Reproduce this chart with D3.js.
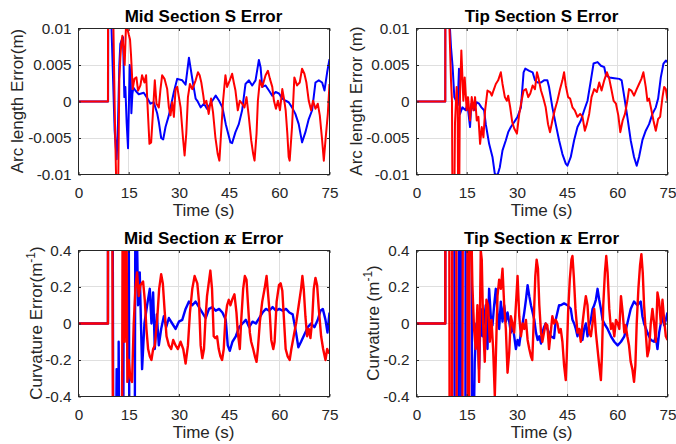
<!DOCTYPE html>
<html>
<head>
<meta charset="utf-8">
<script src="https://cdn.jsdelivr.net/npm/d3@7"></script>
<style>
  html, body { margin: 0; padding: 0; background: #fff; }
  svg { display: block; }
  text { font-family: "Liberation Sans", Arial, Helvetica, sans-serif; }
</style>
</head>
<body>
<svg id="fig" width="676" height="444"></svg>
<script>
// Time axis and tick labels
const timeTicks = [0, 15, 30, 45, 60, 75];
const sTicks = [-0.01, -0.005, 0, 0.005, 0.01];
const sTickLabels = ["-0.01", "-0.005", "0", "0.005", "0.01"];
const kTicks = [-0.4, -0.2, 0, 0.2, 0.4];
const kTickLabels = ["-0.4", "-0.2", "0", "0.2", "0.4"];

// Mid section arc-length error (m): [time (s), error]
const midS_blue = [[0,0],[8.85,0],[8.9,0.014],[9.6,0.014],[10.2,0.005],[10.8,-0.004],[11.4,-0.0079],[11.8,-0.003],[12.2,0.005],[12.5,0.0079],[13.0,0.0085],[13.3,0.0088],[13.7,0.0006],[14.0,0.002],[14.4,-0.003],[14.8,-0.0064],[15.3,0.005],[15.6,0.003],[15.8,-0.0016],[16.1,0.001],[16.4,0.0019],[17.0,0.0015],[18.0,0.001],[19.5,0.0012],[20.5,0.0005],[21.5,-0.0003],[22.5,-0.0001],[23.5,-0.0016],[24.0,-0.0028],[24.7,-0.005],[25.3,-0.0052],[26.0,-0.0035],[27.0,-0.0019],[28.5,0.0013],[29.5,0.0031],[31.0,0.0029],[32.0,0.0023],[33.0,0.006],[34,0.0031],[35,0.0004],[35.5,0.0001],[36.5,-0.0008],[37.5,-0.0003],[38.4,-0.001],[40,0.0001],[41,0.0008],[42,0.0001],[43,-0.0008],[44,-0.0031],[45.4,-0.0056],[45.9,-0.0057],[46.9,-0.0042],[47.9,-0.0031],[48.9,-0.0012],[49.9,0.0024],[50.9,0.0029],[51.9,0.0022],[52.9,0.0029],[53.9,0.0057],[54.4,0.0047],[54.9,0.002],[55.9,0.0022],[56.9,0.0015],[57.9,0.0008],[58.9,0.0013],[59.9,0.0011],[60.9,0.0004],[61.9,0.0001],[62.8,-0.0001],[63.8,-0.0008],[64.8,-0.0017],[65.8,-0.0031],[66.8,-0.0056],[67.8,-0.0042],[68.8,-0.0024],[69.8,-0.0012],[70.8,0.0026],[71.8,0.0029],[72.8,0.0026],[73.5,0.0015],[74.3,0.004],[75,0.0058]];
const midS_red = [[0,0],[8.8,0],[8.82,0.014],[10.3,0.014],[10.9,-0.003],[11.4,-0.014],[11.8,-0.014],[12.2,0.003],[12.5,0.006],[12.8,0.008],[13.1,0.009],[13.4,0.0075],[13.8,0.005],[14.2,0.0105],[14.6,0.01],[15.0,0.0092],[15.4,0.0085],[15.7,0.0063],[16.2,0.0017],[16.7,0.0031],[17.3,0.0033],[17.8,0.0015],[18.5,0.0022],[19.0,0.0036],[19.7,0.0026],[20.2,0.0036],[20.7,-0.0012],[21.2,-0.0058],[21.7,-0.0056],[22.2,-0.0019],[22.8,0.0029],[23.3,-0.0003],[24.0,-0.0008],[24.5,0.0017],[25.0,0.0036],[25.7,0.0031],[26.5,0.0017],[27.0,-0.0008],[27.5,-0.0019],[28.0,-0.0001],[28.5,-0.0021],[29.0,0.0017],[29.5,0.002],[30.0,0.0006],[30.5,-0.0008],[31.2,-0.0049],[31.7,-0.0074],[32.2,-0.0044],[32.7,0.0006],[33.3,0.0024],[34.0,0.0017],[35.0,0.0029],[35.7,0.004],[36.2,0.0036],[36.7,0.0026],[37.3,0.0008],[37.6,-0.0003],[38.2,0.0001],[38.9,-0.0017],[39.6,0.0004],[40.2,-0.0015],[40.9,-0.0049],[41.6,-0.0072],[42.1,-0.0081],[42.6,-0.0044],[43.2,0.0001],[43.9,0.0036],[44.4,0.002],[45.2,0.0029],[45.9,0.0038],[46.4,0.0026],[46.9,0.0015],[47.6,-0.0012],[48.2,0.0001],[48.9,-0.0003],[49.6,-0.0008],[50.2,0.0006],[50.9,-0.0021],[51.6,-0.0053],[52.2,-0.0072],[52.6,-0.0081],[53.2,-0.0044],[53.6,0.0001],[54.2,0.0029],[54.9,0.002],[55.9,0.0036],[56.6,0.0042],[57.2,0.0031],[57.9,0.002],[58.4,0.0001],[59.0,-0.001],[59.6,0.0001],[60.2,-0.0012],[60.9,0.0017],[61.4,0.0004],[61.9,-0.0012],[62.4,-0.0044],[62.8,-0.0076],[63.1,-0.0081],[63.8,-0.0035],[64.5,0.0033],[65.3,0.0022],[66.1,0.0026],[66.8,0.0045],[67.5,0.0038],[68.1,0.0026],[68.8,0.0001],[69.5,-0.0012],[70.1,0.0001],[70.8,-0.001],[71.5,-0.0003],[72.1,-0.0019],[72.8,-0.0053],[73.3,-0.0081],[73.8,-0.0053],[74.5,-0.0017],[75,0.0024]];

// Tip section arc-length error (m)
const tipS_blue = [[0,0],[8.6,0],[8.62,0.014],[9.7,0.014],[10.0,0.01],[10.3,0.0075],[10.8,0.0047],[11.3,0.0006],[11.8,0.0001],[12.3,-0.0005],[12.7,0.0045],[13.0,-0.0017],[13.7,-0.0008],[14.7,-0.0012],[15.2,-0.0003],[16.0,-0.0035],[16.4,-0.0003],[17.2,-0.0012],[18.0,-0.0001],[18.7,-0.0003],[19.4,-0.0008],[20.2,-0.0012],[20.7,-0.0031],[21.7,-0.0058],[22.7,-0.0076],[23.4,-0.0099],[24.2,-0.0101],[24.9,-0.009],[25.7,-0.0067],[26.7,-0.0053],[27.4,-0.0042],[28.2,-0.0035],[29.2,-0.0028],[30.2,-0.0021],[31.2,-0.0008],[32.0,0.004],[32.5,0.0045],[33.7,0.0042],[34.7,0.004],[35.4,0.0029],[36.2,0.0026],[37.2,0.0026],[38.1,0.0029],[39.1,0.0029],[39.6,0.002],[40.6,-0.0008],[41.6,-0.0031],[42.6,-0.0053],[43.6,-0.0072],[44.6,-0.0085],[45.1,-0.0088],[46.1,-0.0076],[47.1,-0.0053],[48.1,-0.0035],[49.1,-0.0026],[50.1,-0.0012],[51.1,0.0001],[52.1,0.0029],[52.9,0.0052],[54.1,0.0054],[55.1,0.0049],[56.1,0.0047],[56.6,0.0036],[57.6,0.0033],[59.1,0.0032],[60.6,0.0031],[61.3,0.0029],[62.1,0.0006],[63.0,-0.0021],[64.0,-0.0053],[65.0,-0.0076],[65.8,-0.0088],[66.5,-0.0076],[67.5,-0.0053],[68.5,-0.004],[69.5,-0.0031],[70.5,-0.0017],[71.5,-0.0008],[72.2,0.0004],[73.0,0.0033],[73.8,0.0052],[74.5,0.0056],[75,0.0054]];
const tipS_red = [[0,0],[8.6,0],[8.62,0.014],[9.6,0.014],[10.3,0.003],[10.6,0.0],[10.75,-0.014],[11.3,-0.014],[11.5,-0.003],[12.0,0.002],[12.3,-0.001],[12.45,-0.014],[12.75,-0.014],[12.95,0.0],[13.4,0.007],[14.0,0.0001],[14.4,0.0033],[15.0,-0.0012],[15.4,0.0006],[16.0,-0.0026],[16.5,0.0006],[17.0,-0.0012],[17.5,0.0006],[18.0,-0.0026],[18.5,-0.0021],[19.0,-0.0058],[19.5,-0.0035],[20.0,-0.0049],[20.5,-0.0012],[21.2,0.0015],[22.0,0.0013],[22.5,0.0008],[23.0,0.0015],[23.7,0.0024],[24.4,0.0029],[25.2,0.004],[25.7,0.0024],[26.4,0.0006],[27.0,0.0001],[27.4,0.0008],[28.0,-0.0008],[28.6,-0.0028],[29.2,-0.0037],[30.0,-0.0044],[30.7,-0.0017],[31.4,0.0001],[32.0,0.0015],[32.7,0.0017],[33.4,0.0006],[34.0,0.0011],[34.7,0.0022],[35.4,0.0017],[36.0,0.004],[36.5,0.0031],[37.2,0.0015],[37.8,0.0006],[38.6,-0.0008],[39.3,-0.0031],[39.9,-0.0042],[40.6,-0.0026],[41.3,-0.0012],[42.1,0.0001],[42.9,0.0017],[43.6,0.0029],[44.1,0.004],[44.6,0.0022],[45.3,0.0006],[45.9,0.0004],[46.6,-0.0008],[47.3,-0.0012],[48.1,-0.0021],[48.9,-0.0017],[49.6,-0.0021],[50.3,-0.004],[50.9,-0.0031],[51.6,-0.0017],[52.3,0.0006],[53.1,0.0017],[53.9,0.0013],[54.6,0.0026],[55.3,0.0015],[56.1,0.0029],[56.9,0.004],[57.6,0.0031],[58.3,0.0015],[58.9,0.0001],[59.6,-0.0003],[60.3,-0.0019],[60.9,-0.0042],[61.6,-0.0026],[62.3,-0.0017],[63.0,0.0001],[63.5,0.0017],[64.2,0.0015],[65.0,0.0008],[65.8,0.0017],[66.5,0.0024],[67.2,0.0031],[67.8,0.004],[68.5,0.002],[69.0,0.0001],[69.5,0.0004],[70.2,-0.0012],[70.8,-0.0026],[71.5,-0.004],[72.2,-0.0024],[72.8,-0.0021],[73.5,0.0006],[74.0,0.002],[74.5,0.0017],[75,0.0001]];

// Mid section curvature error (1/m)
const midK_blue = [[0,0],[8.8,0],[8.82,0.7],[10.2,0.7],[10.4,-0.7],[11.2,-0.7],[11.4,-0.25],[11.6,-0.7],[11.9,-0.7],[12.0,-0.1],[12.2,-0.7],[13.4,-0.7],[13.5,0.7],[15.0,0.7],[15.2,-0.7],[16.8,-0.7],[17.0,0.7],[17.3,0.7],[17.8,0.1],[18.3,0.28],[19.0,-0.25],[19.7,0.0],[20.5,0.10],[21.3,0.19],[21.8,0.0],[22.3,0.17],[22.8,-0.14],[23.4,0.05],[24.0,-0.12],[24.7,-0.03],[25.5,0.04],[26.2,-0.02],[27,0.03],[28,0.0],[29,-0.03],[30,0.01],[31,0.02],[32,0.08],[33,0.12],[34,0.10],[35,0.12],[36,0.09],[37,0.06],[38,0.03],[39,0.08],[40,0.09],[41,0.07],[42,0.08],[43,0.06],[44,0.02],[44.6,-0.12],[45.2,-0.15],[46,-0.1],[47,-0.07],[48,-0.02],[49,0.0],[50,0.02],[51,-0.02],[52,0.01],[53,0.0],[54,0.03],[55,0.06],[56,0.08],[57,0.07],[58,0.09],[59,0.07],[60,0.08],[61,0.07],[62,0.08],[63,0.06],[64,0.05],[65,-0.05],[65.7,-0.13],[66.5,-0.1],[67.5,-0.06],[68.5,-0.02],[69.5,0.0],[70.5,-0.02],[71.5,0.02],[72.3,0.07],[73,0.08],[73.8,0.02],[74.4,-0.05],[75,0.06]];
const midK_red = [[0,0],[8.8,0],[8.82,0.7],[10.1,0.7],[10.3,-0.7],[13.0,-0.7],[13.2,0.7],[13.6,0.7],[13.8,-0.1],[14.0,0.7],[14.3,0.7],[14.6,-0.32],[15,-0.2],[15.5,-0.3],[16,-0.32],[16.5,0],[17,0.19],[17.5,0.28],[18,0.15],[18.5,0.21],[19.3,0.23],[19.8,0.13],[20.3,-0.03],[20.8,-0.14],[21.3,-0.18],[21.8,-0.2],[22.3,-0.14],[22.8,-0.12],[23.5,0.02],[24.1,0.19],[24.7,0.27],[25.2,0.22],[25.7,0.08],[26.3,-0.07],[27.0,-0.12],[27.7,-0.14],[28.3,-0.09],[29.0,-0.12],[29.7,-0.14],[30.5,-0.10],[31.3,-0.14],[32.0,-0.22],[32.7,-0.12],[33.3,0.06],[34.0,0.19],[34.7,0.26],[35.5,0.22],[36,0.12],[36.5,-0.12],[37.0,-0.19],[37.5,-0.14],[37.9,0.01],[38.4,0.15],[38.9,0.22],[39.4,0.29],[39.9,0.19],[40.4,-0.07],[40.9,-0.08],[41.4,-0.07],[41.9,-0.14],[42.4,-0.18],[42.9,-0.2],[43.4,-0.14],[43.9,0.03],[44.4,0.10],[44.9,0.13],[45.4,0.10],[45.9,0.13],[46.6,0.16],[47.2,0.06],[47.6,-0.05],[48.2,-0.14],[48.6,0.01],[49.2,0.19],[49.7,0.26],[50.2,0.24],[50.6,0.12],[51.2,-0.05],[51.6,-0.10],[52.2,-0.14],[52.7,-0.18],[53.2,-0.21],[53.6,-0.14],[54.2,0.01],[54.9,0.12],[55.6,0.19],[56.2,0.26],[56.7,0.15],[57.2,0.04],[57.6,-0.09],[58.2,-0.14],[58.6,-0.10],[59.2,0.12],[59.9,0.21],[60.4,0.22],[60.9,0.18],[61.4,0.02],[61.9,-0.14],[62.5,-0.18],[63.1,-0.2],[63.6,-0.14],[64.3,-0.07],[65.1,0.01],[65.8,0.10],[66.5,0.19],[66.9,0.26],[67.3,0.19],[67.8,0.04],[68.3,-0.07],[68.8,-0.03],[69.3,-0.08],[69.8,0.01],[70.3,0.19],[70.8,0.25],[71.3,0.21],[71.8,0.08],[72.5,-0.07],[73.1,-0.14],[73.8,-0.20],[74.3,-0.14],[74.8,-0.16],[75.0,-0.15]];

// Tip section curvature error (1/m)
const tipK_blue = [[0,0],[8.6,0],[8.62,0.7],[11.3,0.7],[11.4,-0.7],[12.6,-0.7],[12.7,0.7],[13.3,0.7],[13.4,-0.7],[14.6,-0.7],[14.7,0.7],[16.5,0.7],[16.6,-0.7],[17.0,-0.7],[17.4,-0.21],[17.9,0.0],[18.2,-0.05],[18.7,-0.25],[19.2,0.08],[19.7,-0.07],[20.2,0.02],[20.7,0.10],[21.2,-0.14],[21.7,0.19],[22.2,0.04],[22.7,-0.01],[23.2,0.10],[23.7,0.19],[24.2,0.06],[24.7,-0.03],[25.2,0.12],[25.7,0.01],[26.2,0.10],[26.7,0.01],[27.2,0.06],[27.7,0.01],[28.2,-0.05],[28.7,0.0],[29.2,-0.07],[29.7,-0.14],[30.2,-0.09],[30.7,-0.12],[31.2,-0.05],[31.7,0.0],[32.2,0.06],[32.7,0.13],[33.2,0.21],[33.7,0.15],[34.2,0.10],[34.7,0.06],[35.2,0.02],[35.7,-0.05],[36.2,-0.09],[36.7,-0.07],[37.2,-0.11],[37.6,-0.05],[38.1,-0.02],[38.6,0.0],[39.1,-0.03],[40.1,-0.07],[41.1,-0.08],[41.6,0.02],[42.1,0.06],[42.6,0.10],[43.1,0.10],[44.1,0.11],[45.1,0.10],[46.1,0.08],[46.6,0.02],[47.1,0.0],[47.6,-0.03],[48.1,-0.07],[48.6,-0.03],[49.1,-0.05],[49.6,-0.09],[50.1,-0.03],[50.6,0.0],[51.1,-0.07],[51.6,-0.01],[52.1,0.02],[52.6,0.08],[53.1,0.10],[53.6,0.13],[54.1,0.19],[54.6,0.13],[55.1,0.08],[55.6,0.02],[56.1,0.0],[57.1,-0.03],[58.1,-0.07],[59.1,-0.10],[60.1,-0.12],[61.1,-0.10],[62.1,-0.07],[63.0,0.0],[64.0,0.08],[65.0,0.12],[66.0,0.10],[67.0,0.12],[67.5,0.04],[68.0,0.0],[69.0,-0.05],[70.0,-0.09],[71.0,-0.10],[71.5,-0.07],[72.0,-0.14],[72.5,-0.05],[73.0,0.0],[73.5,0.04],[74.0,-0.01],[74.5,0.02],[75.0,0.06]];
const tipK_red = [[0,0],[8.6,0],[8.62,0.7],[9.8,0.7],[9.9,-0.7],[10.6,-0.7],[10.7,0.7],[11.9,0.7],[12.05,-0.7],[13.7,-0.7],[13.85,0.7],[15.2,0.7],[15.35,-0.7],[15.7,-0.7],[15.85,0.7],[16.2,0.7],[16.7,0.21],[17.2,-0.03],[17.7,-0.14],[18.2,0.10],[18.7,-0.32],[19.2,0.40],[19.5,0.35],[19.9,0.0],[20.4,-0.21],[20.9,0.13],[21.4,0.10],[21.9,-0.10],[22.4,0.02],[22.9,-0.14],[23.4,-0.40],[23.9,-0.05],[24.2,0.15],[24.7,0.24],[25.2,0.19],[25.7,0.30],[26.2,0.10],[26.7,-0.03],[27.2,-0.27],[27.7,-0.16],[28.2,0.04],[28.7,0.0],[29.2,-0.05],[29.7,0.10],[30.2,0.26],[30.7,0.04],[31.2,-0.07],[31.7,0.0],[32.2,-0.03],[32.7,0.02],[33.2,-0.09],[33.7,-0.14],[34.2,-0.18],[34.6,-0.2],[35.0,0.0],[35.5,0.26],[35.9,0.35],[36.3,0.30],[36.7,0.10],[37.2,-0.05],[37.6,-0.10],[38.1,-0.05],[38.6,0.0],[39.1,-0.01],[39.6,-0.14],[40.1,-0.05],[40.6,0.04],[41.1,0.0],[41.6,0.02],[42.1,0.0],[42.6,-0.05],[43.1,-0.03],[43.6,-0.10],[44.1,-0.23],[44.6,-0.31],[44.9,-0.18],[45.3,0.06],[45.8,0.24],[46.3,0.35],[46.6,0.37],[47.0,0.26],[47.5,0.08],[48.1,-0.05],[48.6,-0.03],[49.1,-0.10],[49.6,0.0],[50.1,0.08],[50.6,0.15],[51.1,0.10],[51.6,-0.05],[52.1,-0.07],[52.6,0.0],[53.1,0.08],[53.6,-0.05],[54.1,-0.14],[54.6,-0.23],[55.1,-0.31],[55.4,-0.18],[55.8,0.10],[56.3,0.28],[56.7,0.37],[57.1,0.28],[57.6,0.08],[58.1,-0.03],[58.6,0.0],[59.1,-0.07],[59.6,0.02],[60.1,0.0],[60.6,-0.03],[61.1,0.15],[61.6,0.06],[62.1,-0.05],[62.5,-0.01],[63.0,-0.07],[63.5,-0.12],[64.0,-0.21],[64.5,-0.25],[65.0,-0.32],[65.4,-0.23],[65.8,0.0],[66.3,0.19],[66.8,0.32],[67.2,0.38],[67.6,0.28],[68.0,0.10],[68.5,-0.05],[69.0,-0.18],[69.5,-0.14],[70.0,0.0],[70.5,0.08],[71.0,0.0],[71.5,-0.10],[72.0,0.17],[72.5,0.12],[73.0,0.0],[73.5,0.13],[74.0,0.02],[74.5,-0.07],[75.0,-0.09]];

const BLUE = "#0000ff", RED = "#ff0000", INK = "#262626";

const panels = [
  { id: "a", left: 78,  top: 28,  width: 251, title: ["Mid Section S Error"], ylab: "Arc length Error(m)", ylabX: 23,
    blue: midS_blue, red: midS_red, ticks: sTicks, labels: sTickLabels, lw: 2 },
  { id: "b", left: 416, top: 28,  width: 251, title: ["Tip Section S Error"], ylab: "Arc length Error (m)", ylabX: 361.5,
    blue: tipS_blue, red: tipS_red, ticks: sTicks, labels: sTickLabels, lw: 2 },
  { id: "c", left: 78,  top: 250, width: 251, title: ["Mid Section ", "κ", " Error"], ylab: ["Curvature Error(m", "-1", ")"], ylabX: 41.5,
    blue: midK_blue, red: midK_red, ticks: kTicks, labels: kTickLabels, lw: 2.4 },
  { id: "d", left: 416, top: 250, width: 251, title: ["Tip Section ", "κ", " Error"], ylab: ["Curvature (m", "-1", ")"], ylabX: 379,
    blue: tipK_blue, red: tipK_red, ticks: kTicks, labels: kTickLabels, lw: 2.4 }
];

const H = 146;
const svg = d3.select("#fig");
const defs = svg.append("defs");

panels.forEach(p => {
  const W = p.width;
  const x = d3.scaleLinear().domain([0, 75]).range([0, W]);
  const y = d3.scaleLinear().domain([p.ticks[0], p.ticks[p.ticks.length - 1]]).range([H, 0]);
  const g = svg.append("g").attr("transform", `translate(${p.left + 0.5},${p.top + 0.5})`);

  defs.append("clipPath").attr("id", "clip-" + p.id)
    .append("rect").attr("x", 0).attr("y", 0).attr("width", W).attr("height", H);

  // grid
  const grid = g.append("g").attr("stroke", "#dfdfdf").attr("stroke-width", 1);
  grid.selectAll("line.vx").data(timeTicks.slice(1, -1)).join("line")
    .attr("x1", d => Math.round(x(d))).attr("x2", d => Math.round(x(d)))
    .attr("y1", 0).attr("y2", H);
  grid.selectAll("line.hy").data(p.ticks.slice(1, -1)).join("line")
    .attr("y1", d => Math.round(y(d))).attr("y2", d => Math.round(y(d)))
    .attr("x1", 0).attr("x2", W);

  // data lines
  const line = d3.line().x(d => x(d[0])).y(d => y(d[1]));
  const plot = g.append("g").attr("clip-path", `url(#clip-${p.id})`);
  plot.append("path").datum(p.blue).attr("d", line)
    .attr("fill", "none").attr("stroke", BLUE).attr("stroke-width", p.lw)
    .attr("stroke-linejoin", "round");
  plot.append("path").datum(p.red).attr("d", line)
    .attr("fill", "none").attr("stroke", RED).attr("stroke-width", p.lw)
    .attr("stroke-linejoin", "round");

  // axes (ticks pointing inward, mirrored on top/right)
  const styleAxis = sel => {
    sel.select(".domain").remove();
    sel.selectAll(".tick line").attr("stroke", INK);
    sel.selectAll(".tick text").attr("fill", INK).attr("font-size", "15.3px")
      .attr("font-family", '"Liberation Sans", Arial, sans-serif');
  };
  g.append("g").attr("transform", `translate(0,${H})`)
    .call(d3.axisBottom(x).tickValues(timeTicks).tickSizeInner(-2.5).tickSizeOuter(0).tickPadding(13))
    .call(styleAxis);
  g.append("g")
    .call(d3.axisTop(x).tickValues(timeTicks).tickSizeInner(-2.5).tickSizeOuter(0).tickFormat(""))
    .call(styleAxis);
  g.append("g")
    .call(d3.axisLeft(y).tickValues(p.ticks).tickSizeInner(-2.5).tickSizeOuter(0).tickPadding(7)
      .tickFormat((d, i) => p.labels[i]))
    .call(styleAxis);
  g.append("g").attr("transform", `translate(${W},0)`)
    .call(d3.axisRight(y).tickValues(p.ticks).tickSizeInner(-2.5).tickSizeOuter(0).tickFormat(""))
    .call(styleAxis);

  // box
  g.append("rect").attr("x", 0).attr("y", 0).attr("width", W).attr("height", H)
    .attr("fill", "none").attr("stroke", INK).attr("stroke-width", 1);

  // title
  const t = svg.append("text").attr("x", p.left + W / 2).attr("y", p.top - 6.5)
    .attr("text-anchor", "middle").attr("font-size", "17px").attr("font-weight", "bold").attr("fill", "#000");
  p.title.forEach(s => {
    const ts = t.append("tspan").text(s);
    if (s === "κ") ts.attr("font-style", "italic").attr("font-family", '"DejaVu Serif", "Liberation Serif", serif');
  });

  // x label
  svg.append("text").attr("x", p.left + W / 2).attr("y", p.top + H + 42)
    .attr("text-anchor", "middle").attr("font-size", "17px").attr("fill", INK).text("Time (s)");

  // y label
  const yl = svg.append("text")
    .attr("transform", `translate(${p.ylabX},${p.top + H / 2}) rotate(-90)`)
    .attr("text-anchor", "middle").attr("font-size", "17px").attr("fill", INK);
  if (Array.isArray(p.ylab)) {
    yl.append("tspan").text(p.ylab[0]);
    yl.append("tspan").attr("font-size", "12px").attr("dy", -7).text(p.ylab[1]);
    yl.append("tspan").attr("dy", 7).text(p.ylab[2]);
  } else {
    yl.text(p.ylab);
  }
});
</script>
</body>
</html>
